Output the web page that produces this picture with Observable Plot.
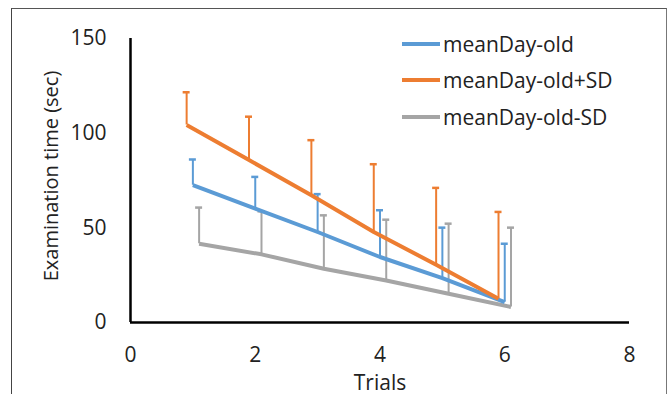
<!DOCTYPE html>
<html>
<head>
<meta charset="utf-8">
<script src="https://cdn.jsdelivr.net/npm/d3@7"></script>
<script src="https://cdn.jsdelivr.net/npm/@observablehq/plot@0.6"></script>
<style>
  html, body { margin: 0; padding: 0; background: #fff; overflow: hidden; }
  #wrap { position: relative; width: 670px; height: 394px; overflow: hidden; font-family: "Open Sans", sans-serif; }
  #border { position: absolute; left: 11px; top: 8px; width: 656px; height: 400px; border: 1.5px solid #444; border-top-color: #555; border-right-color: #777; box-sizing: border-box; pointer-events: none; }
  #legend { position: absolute; left: 402px; top: 26px; font-size: 21px; color: #222; }
  .row { display: flex; align-items: center; height: 36.3px; }
  .sw { width: 38px; height: 4px; margin-right: 3px; }
  #chart { position: absolute; left: 0; top: 0; }
  #ylabel { position: absolute; left: 51px; top: 176px; transform: translate(-50%, -50%) rotate(-90deg); white-space: nowrap; font-size: 20px; color: #222; line-height: 1; }
</style>
</head>
<body>
<div id="wrap">
  <div id="chart"></div>
  <div id="ylabel"></div>
  <div id="border"></div>
  <div id="legend"></div>
</div>
<script>
const trials = [1, 2, 3, 4, 5, 6];
const seriesNames = ["meanDay-old", "meanDay-old+SD", "meanDay-old-SD"];
const seriesColors = ["#5B9BD5", "#ED7D31", "#A5A5A5"];
const seriesOffsets = [0, -0.1, 0.1];
const meanValues = [72.5, 60.2, 47.8, 34.6, 23.4, 10.7];
const meanErrTop = [86.1, 76.9, 67.8, 59.3, 50.1, 41.6];
const plusValues = [104.3, 85.8, 67.2, 47.8, 30.5, 12.5];
const plusErrTop = [121.6, 108.7, 96.3, 83.6, 71.1, 58.4];
const minusValues = [41.6, 36.0, 28.4, 22.2, 15.2, 8.2];
const minusErrTop = [60.7, 58.7, 56.6, 54.3, 52.2, 50.1];
const xTicks = [0, 2, 4, 6, 8];
const yTicks = [0, 50, 100, 150];
const xLabel = "Trials";
const yLabel = "Examination time (sec)";

const seriesValues = [meanValues, plusValues, minusValues];
const seriesTops = [meanErrTop, plusErrTop, minusErrTop];

const rows = [];
seriesNames.forEach((name, s) => {
  trials.forEach((t, i) => {
    rows.push({series: name, s, x: t + seriesOffsets[s], y: seriesValues[s][i], top: seriesTops[s][i]});
  });
});
const drawOrder = [2, 0, 1];
const capHalf = 0.056;

const marks = [];
for (const s of drawOrder) {
  const data = rows.filter(d => d.s === s);
  const c = seriesColors[s];
  marks.push(Plot.ruleX(data, {x: "x", y1: "y", y2: "top", stroke: c, strokeWidth: 2}));
  marks.push(Plot.ruleY(data, {y: "top", x1: d => d.x - capHalf, x2: d => d.x + capHalf, stroke: c, strokeWidth: 2.5}));
  marks.push(Plot.line(data, {x: "x", y: "y", stroke: c, strokeWidth: 4, strokeLinecap: "butt"}));
}

const chart = Plot.plot({
  width: 670,
  height: 394,
  marginLeft: 130,
  marginRight: 41,
  marginTop: 38,
  marginBottom: 72,
  style: {fontFamily: "Open Sans, sans-serif", fontSize: "21px", color: "#222", background: "transparent"},
  x: {domain: [0, 8]},
  y: {domain: [0, 150]},
  marks: [
    Plot.axisX({ticks: xTicks, tickSize: 0, tickPadding: 25, label: null, fontSize: 21}),
    Plot.axisY({ticks: yTicks, tickSize: 0, tickPadding: 24, label: null, fontSize: 21}),
    Plot.ruleX([0], {y1: 0, y2: 150, stroke: "#000", strokeWidth: 2.5}),
    Plot.ruleY([0], {x1: 0, x2: 8, stroke: "#000", strokeWidth: 2.5}),
    ...marks,
    Plot.text([xLabel], {frameAnchor: "bottom", dy: 67, fontSize: 21, fill: "#222"})
  ]
});
document.getElementById("chart").appendChild(chart);
document.getElementById("ylabel").textContent = yLabel;

const legend = document.getElementById("legend");
seriesNames.forEach((name, s) => {
  const row = document.createElement("div");
  row.className = "row";
  const sw = document.createElement("div");
  sw.className = "sw";
  sw.style.background = seriesColors[s];
  const tx = document.createElement("span");
  tx.textContent = name;
  row.appendChild(sw);
  row.appendChild(tx);
  legend.appendChild(row);
});
</script>
</body>
</html>
